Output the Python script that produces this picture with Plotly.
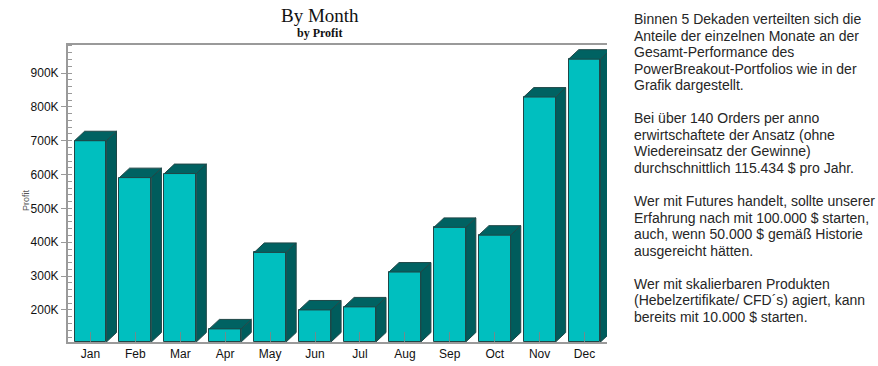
import plotly.graph_objects as go

# ---------------- data ----------------
months = ["Jan", "Feb", "Mar", "Apr", "May", "Jun", "Jul", "Aug", "Sep", "Oct", "Nov", "Dec"]
profit = [700000, 591000, 603000, 144000, 370000, 200000, 209000, 312000, 444000, 421000, 829000, 941000]
y_tickvals = [200000, 300000, 400000, 500000, 600000, 700000, 800000, 900000]
y_ticktext = ["200K", "300K", "400K", "500K", "600K", "700K", "800K", "900K"]

text_lines = [
    "Binnen 5 Dekaden verteilten sich die",
    "Anteile der einzelnen Monate an der",
    "Gesamt-Performance des",
    "PowerBreakout-Portfolios wie in der",
    "Grafik dargestellt.",
    "",
    "Bei über 140 Orders per anno",
    "erwirtschaftete der Ansatz (ohne",
    "Wiedereinsatz der Gewinne)",
    "durchschnittlich 115.434 $ pro Jahr.",
    "",
    "Wer mit Futures handelt, sollte unserer",
    "Erfahrung nach mit 100.000 $ starten,",
    "auch, wenn 50.000 $ gemäß Historie",
    "ausgereicht hätten.",
    "",
    "Wer mit skalierbaren Produkten",
    "(Hebelzertifikate/ CFD´s) agiert, kann",
    "bereits mit 10.000 $ starten.",
]

# ---------------- layout constants ----------------
W, H = 878, 366
ML, MR, MT, MB = 68, 271, 45, 24
Y_MIN, Y_MAX = 105300, 982800
BAR_W = 0.71
DX = 0.225          # depth offset in category units
DY = 28000          # depth offset in value units

FRONT = "#00BFBF"
SIDE = "#005C5C"
TOP = "#006262"
EDGE = "#1F4747"
AXIS = "#9A9A9A"

fig = go.Figure()

xs = list(range(len(months)))
fig.add_trace(go.Bar(
    x=xs, y=[v - Y_MIN for v in profit], width=BAR_W, base=Y_MIN,
    marker=dict(color=FRONT, line=dict(color=EDGE, width=1)),
    hoverinfo="skip", showlegend=False,
))

side_x, side_y, top_x, top_y = [], [], [], []
for x, v in zip(xs, profit):
    xl, xr = x - BAR_W / 2, x + BAR_W / 2
    side_x += [xr, xr + DX, xr + DX, xr, xr, None]
    side_y += [Y_MIN, Y_MIN + DY, v + DY, v, Y_MIN, None]
    top_x += [xl, xl + DX, xr + DX, xr, xl, None]
    top_y += [v, v + DY, v + DY, v, v, None]

fig.add_trace(go.Scatter(x=side_x, y=side_y, mode="lines", fill="toself",
                         fillcolor=SIDE, line=dict(color=EDGE, width=1),
                         hoverinfo="skip", showlegend=False))
fig.add_trace(go.Scatter(x=top_x, y=top_y, mode="lines", fill="toself",
                         fillcolor=TOP, line=dict(color=EDGE, width=1),
                         hoverinfo="skip", showlegend=False))

plot_w = W - ML - MR
plot_h = H - MT - MB


def px(xp):
    return (xp - ML) / plot_w


def py(yp):
    return (H - MB - yp) / plot_h


annotations = [
    dict(text="By Month", x=px(320), y=py(15), xref="paper", yref="paper",
         showarrow=False, xanchor="center", yanchor="middle",
         font=dict(family="Liberation Serif", size=19, color="#111")),
    dict(text="<b>by Profit</b>", x=px(319), y=py(33), xref="paper", yref="paper",
         showarrow=False, xanchor="center", yanchor="middle",
         font=dict(family="Liberation Serif", size=12, color="#111")),
    dict(text="Profit", x=px(26), y=py(200), xref="paper", yref="paper",
         showarrow=False, textangle=-90, xanchor="center", yanchor="middle",
         font=dict(family="Liberation Sans", size=9, color="#555")),
]

y0, step = 19, 16.55
for i, line in enumerate(text_lines):
    if not line:
        continue
    annotations.append(dict(
        text=line, x=px(632), y=py(y0 + i * step), xref="paper", yref="paper",
        showarrow=False, xanchor="left", yanchor="middle",
        font=dict(family="Liberation Sans", size=14, color="#262626"),
    ))

fig.update_layout(
    width=W, height=H,
    margin=dict(l=ML, r=MR, t=MT, b=MB, pad=0, autoexpand=False),
    paper_bgcolor="white", plot_bgcolor="white",
    bargap=0,
    xaxis=dict(
        range=[-0.5, 11.5], tickvals=xs, ticktext=months,
        ticks="inside", ticklen=10, tickcolor="#6E8C8C", tickwidth=1,
        showline=True, linecolor=AXIS, linewidth=2, mirror=True,
        showgrid=False, zeroline=False, automargin=False,
        tickfont=dict(family="Liberation Sans", size=12, color="#111"),
    ),
    yaxis=dict(
        range=[Y_MIN, Y_MAX], tickvals=y_tickvals, ticktext=y_ticktext,
        ticks="outside", ticklen=5, tickcolor=AXIS, tickwidth=1,
        showline=True, linecolor=AXIS, linewidth=2,
        showgrid=False, zeroline=False, automargin=False,
        minor=dict(ticks="inside", dtick=20000, tick0=0, ticklen=4,
                   tickcolor=AXIS, tickwidth=1, showgrid=False),
        tickfont=dict(family="Liberation Sans", size=12, color="#111"),
    ),
    annotations=annotations,
)

fig.write_html("out.html")
